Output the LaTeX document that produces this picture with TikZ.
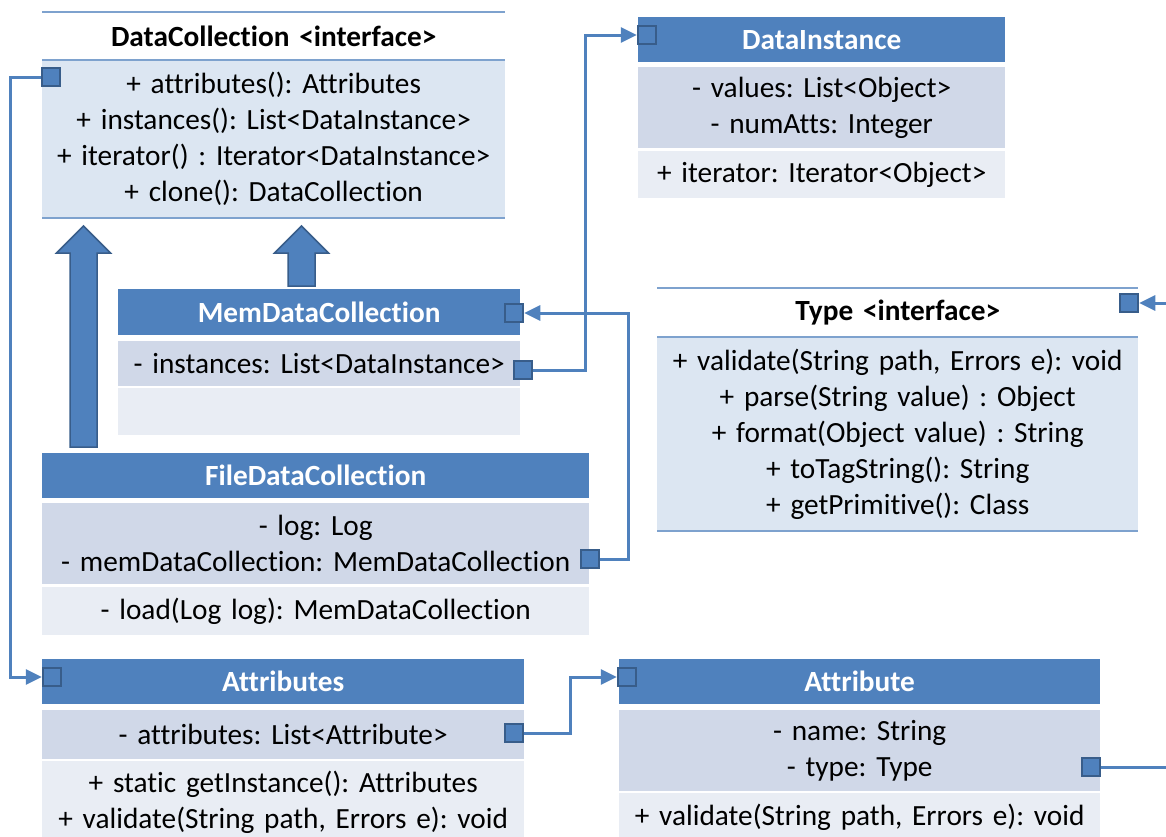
\documentclass[tikz,border=0pt]{standalone}
\usepackage{fontspec}
\setmainfont{Carlito}[Ligatures=NoCommon]
\usepackage{tikz}
\usetikzlibrary{arrows.meta}
\frenchspacing

\definecolor{hdrblue}{HTML}{4F81BD}
\definecolor{sqdark}{HTML}{385D8A}
\definecolor{attrrow}{HTML}{D0D8E8}
\definecolor{methrow}{HTML}{E9EDF4}
\definecolor{ifbody}{HTML}{DCE6F2}
\definecolor{ifline}{HTML}{7EA2CE}

\begin{document}
\begin{tikzpicture}[x=1pt, y=-1pt,
  every node/.style={font=\fontsize{29.3}{36}\selectfont, inner sep=0pt, align=center},
  cell/.style 2 args={anchor=north west, text width=#1, minimum height=#2},
  hdr/.style={fill=hdrblue, text=white, font=\fontsize{29.3}{36}\selectfont\bfseries},
  attr/.style={fill=attrrow},
  meth/.style={fill=methrow},
  iftitle/.style={font=\fontsize{29.3}{36}\selectfont\bfseries},
  ifbody/.style={fill=ifbody},
  ifrule/.style={draw=ifline, line width=2pt},
  sq/.style={draw=sqdark, fill=hdrblue, line width=2.5pt, minimum size=18pt},
  conn/.style={draw=hdrblue, line width=3pt},
  inh/.style={fill=hdrblue, draw=sqdark, line width=1.5pt},
  pics/genarrow/.style={code={
    \draw[inh] (-13.5,0) -- (-13.5,-#1) -- (-27,-#1) -- (0,-#1-27) -- (27,-#1) -- (13.5,-#1) -- (13.5,0) -- cycle;}}]
  \useasboundingbox (0,0) rectangle (1166,836);

  % DataCollection
  \node[iftitle, cell={463}{48}] (dcT) at (42,12) {DataCollection <interface>};
  \node[ifbody, cell={463}{158}] (dcB) at (42,60) {+ attributes(): Attributes\\+ instances(): List<DataInstance>\\+ iterator() : Iterator<DataInstance>\\+ clone(): DataCollection};
  \draw[ifrule] (dcT.north west) -- (dcT.north east);
  \draw[ifrule] (dcB.north west) -- (dcB.north east);
  \draw[ifrule] (dcB.south west) -- (dcB.south east);

  % DataInstance
  \node[hdr, cell={367}{45}] (diH) at (638,17) {DataInstance};
  \node[attr, cell={367}{81}] (diA) at (638,67) {- values: List<Object>\\- numAtts: Integer};
  \node[meth, cell={367}{47}] (diM) at (638,151) {+ iterator: Iterator<Object>};

  % MemDataCollection
  \node[hdr, cell={402}{46}] (mdcH) at (118,289) {MemDataCollection};
  \node[attr, cell={402}{45}] (mdcA) at (118,341) {- instances: List<DataInstance>\hspace{22pt}};
  \node[meth, cell={402}{47}] (mdcM) at (118,388) {};

  % FileDataCollection
  \node[hdr, cell={547}{45}] (fdcH) at (42,453) {FileDataCollection};
  \node[attr, cell={547}{81}] (fdcA) at (42,503) {- log: Log\\- memDataCollection: MemDataCollection};
  \node[meth, cell={547}{48}] (fdcM) at (42,587) {- load(Log log): MemDataCollection};

  % Type
  \node[iftitle, cell={481}{49}] (tyT) at (657,288) {Type <interface>};
  \node[ifbody, cell={481}{194}] (tyB) at (657,337) {+ validate(String path, Errors e): void\\+ parse(String value) : Object\\+ format(Object value) : String\\+ toTagString(): String\\+ getPrimitive(): Class};
  \draw[ifrule] (tyT.north west) -- (tyT.north east);
  \draw[ifrule] (tyB.north west) -- (tyB.north east);
  \draw[ifrule] (tyB.south west) -- (tyB.south east);

  % Attributes
  \node[hdr, cell={482}{45}] (atsH) at (42,659) {Attributes};
  \node[attr, cell={482}{49}] (atsA) at (42,710) {- attributes: List<Attribute>};
  \node[meth, cell={482}{82}] (atsM) at (42,761) {+ static getInstance(): Attributes\\+ validate(String path, Errors e): void};

  % Attribute
  \node[hdr, cell={481}{45}] (atH) at (619,659) {Attribute};
  \node[attr, cell={481}{81}] (atA) at (619,710) {- name: String\\- type: Type};
  \node[meth, cell={481}{48}] (atM) at (619,793) {+ validate(String path, Errors e): void};

  % generalization
  \pic at ([shift={(41.5,-6)}]fdcH.north west) {genarrow=194};
  \pic at ([shift={(183.5,-3)}]mdcH.north west) {genarrow=33};

  % ends of the associations
  \node[sq] (dcSq) at (51,77) {};
  \node[sq] (diSq) at (647,35) {};
  \node[sq] (mdcSq) at (514,313) {};
  \node[sq] (mdcInstSq) at (523,370) {};
  \node[sq] (fdcSq) at (590,559) {};
  \node[sq] (tySq) at (1129,303) {};
  \node[sq] (atsSq) at (52,677) {};
  \node[sq] (atsListSq) at (514,733) {};
  \node[sq] (atSq) at (627,677) {};
  \node[sq] (atTypeSq) at (1091,767) {};
  \coordinate (offOut) at (1170,767);
  \coordinate (offIn) at (1170,303);

  \draw[conn, -{Triangle[length=16pt,width=15pt]}] (dcSq.west) -- ++(-30,0) |- (atsSq.west);
  \draw[conn, -{Triangle[length=16pt,width=15pt]}] (mdcInstSq.east) -- ++(52,0) |- (diSq.west);
  \draw[conn, -{Triangle[length=16pt,width=15pt]}] (fdcSq.east) -- ++(28,0) |- (mdcSq.east);
  \draw[conn, -{Triangle[length=16pt,width=15pt]}] (atsListSq.east) -- ++(46,0) |- (atSq.west);
  \draw[conn] (atTypeSq.east) -- (offOut);
  \draw[conn, -{Triangle[length=16pt,width=15pt]}] (offIn) -- (tySq.east);
\end{tikzpicture}
\end{document}
